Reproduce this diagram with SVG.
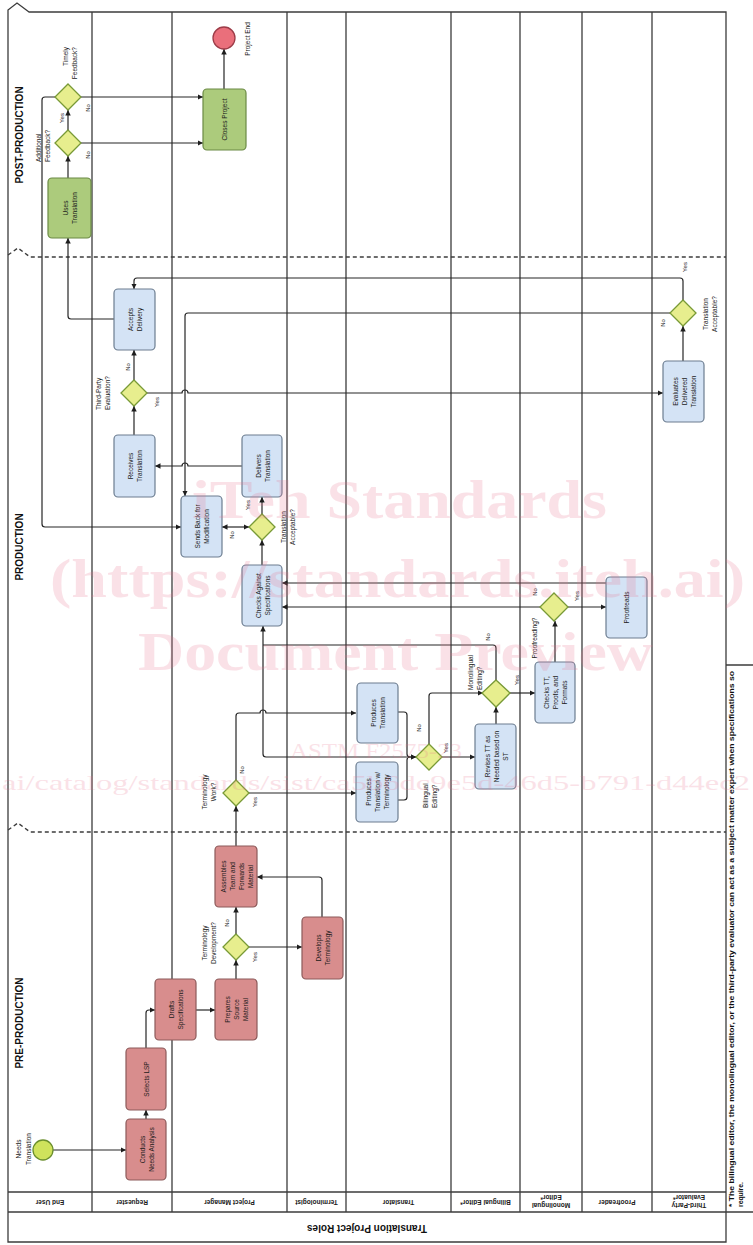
<svg xmlns="http://www.w3.org/2000/svg" width="753" height="1245" viewBox="0 0 753 1245">
<defs>
<marker id="arr" viewBox="0 0 10 10" refX="10" refY="5" markerWidth="5.5" markerHeight="5.5" markerUnits="userSpaceOnUse" orient="auto-start-reverse"><path d="M0,0 L10,5 L0,10 z" fill="#1e1e1e"/></marker>
<style>
.lane{fill:none;stroke:#3c3c3c;stroke-width:1.3}
.dash{fill:none;stroke:#3c3c3c;stroke-width:1.4;stroke-dasharray:4,3}
.c{fill:none;stroke:#262626;stroke-width:1.2;marker-end:url(#arr)}
.cn{fill:none;stroke:#262626;stroke-width:1.2}
.blue{fill:#d4e3f5;stroke:#6c7d90;stroke-width:1.2}
.red{fill:#d88d8d;stroke:#8c5a5a;stroke-width:1.2}
.green{fill:#accb7c;stroke:#6b8a45;stroke-width:1.2}
.dia{fill:#e7ee8e;stroke:#789a36;stroke-width:1.3}
.t{font-family:"Liberation Sans",Arial,sans-serif;font-size:6.5px;fill:#1a1a1a;text-anchor:middle;dominant-baseline:central}
.ts{text-anchor:start}
.te{text-anchor:end}
.yn{font-family:"Liberation Sans",Arial,sans-serif;font-size:6px;fill:#1a1a1a;text-anchor:middle;dominant-baseline:central}
.ll{font-family:"Liberation Sans",Arial,sans-serif;font-size:6.5px;font-weight:bold;fill:#1a1a1a;text-anchor:middle;dominant-baseline:central}
.ph{font-family:"Liberation Sans",Arial,sans-serif;font-size:10px;font-weight:bold;fill:#111;text-anchor:middle;dominant-baseline:central}
.fn{font-family:"Liberation Sans",Arial,sans-serif;font-size:6.8px;font-weight:bold;fill:#111;dominant-baseline:central}
</style>
</defs>
<rect width="753" height="1245" fill="#ffffff"/>

<g id="frame">
<path class="lane" d="M29,12 L17,3 L8,10 V1242 H726 V12 Z"/>
<path class="lane" d="M92,12 V1212 M172,12 V1212 M287,12 V1212 M346,12 V1212 M451,12 V1212 M520,12 V1212 M582,12 V1212 M652,12 V1212"/>
<path class="lane" d="M8,1192 H726 M8,1212 H753 M726,665 H753"/>
<path class="dash" d="M8,255 L18,248 L30,257 H726 M8,830 L18,823 L30,832 H726"/>
</g>

<g id="phases">
<text class="ph" transform="translate(19,135) rotate(-90)">POST-PRODUCTION</text>
<text class="ph" transform="translate(19,547) rotate(-90)">PRODUCTION</text>
<text class="ph" transform="translate(19,1023) rotate(-90)">PRE-PRODUCTION</text>
</g>

<g id="lane-labels">
<text class="ll" transform="translate(50,1202) rotate(180)">End User</text>
<text class="ll" transform="translate(132,1202) rotate(180)">Requester</text>
<text class="ll" transform="translate(229.5,1202) rotate(180)">Project Manager</text>
<text class="ll" transform="translate(316.5,1202) rotate(180)">Terminologist</text>
<text class="ll" transform="translate(398.5,1202) rotate(180)">Translator</text>
<text class="ll" transform="translate(485.5,1202) rotate(180)">Bilingual Editor*</text>
<text class="ll" transform="translate(551,1202) rotate(180)"><tspan x="0" y="-4">Monolingual</tspan><tspan x="0" y="4">Editor*</tspan></text>
<text class="ll" transform="translate(617,1202) rotate(180)">Proofreader</text>
<text class="ll" transform="translate(689,1202) rotate(180)"><tspan x="0" y="-4">Third-Party</tspan><tspan x="0" y="4">Evaluator*</tspan></text>
<text class="ph" transform="translate(367,1228) rotate(180)">Translation Project Roles</text>
</g>

<g id="footnote">
<text class="fn" transform="translate(731,1207) rotate(-90)"><tspan x="0" y="0" textLength="536" lengthAdjust="spacingAndGlyphs">* The bilingual editor, the monolingual editor, or the third-party evaluator can act as a subject matter expert when specifications so</tspan><tspan x="0" y="9">require.</tspan></text>
</g>

<g id="connectors">
<path class="c" d="M53,1150 H126"/>
<path class="c" d="M146,1119 V1110"/>
<path class="c" d="M146,1048 V1013 Q146,1010 149,1010 H155"/>
<path class="c" d="M196,1010 H215"/>
<path class="c" d="M236,979 V960"/>
<path class="c" d="M236,934 V907"/>
<path class="c" d="M249,947 H302"/>
<path class="c" d="M322,917 V880 Q322,877 319,877 H257"/>
<path class="c" d="M236,846 V806"/>
<path class="c" d="M236,780 V716 Q236,713 239,713 H260 A3,3 0 0 1 266,713 H356"/>
<path class="c" d="M249,793 H356"/>
<path class="c" d="M398,712 H404 Q407,712 407,715 V754 Q407,757 410,757 H416"/>
<path class="c" d="M398,800 H404 Q407,800 407,797 V760 Q407,757 410,757 H416"/>
<path class="c" d="M407,757 H266 Q263,757 263,754 V626"/>
<path class="c" d="M429,744 V696 Q429,693 432,693 H483"/>
<path class="c" d="M442,757 H475"/>
<path class="c" d="M496,724 V707"/>
<path class="c" d="M510,693 H535"/>
<path class="cn" d="M496,680 V648 Q496,645 493,645 H263"/>
<path class="c" d="M555,662 V621"/>
<path class="c" d="M568,607 H606"/>
<path class="c" d="M540,607 H282"/>
<path class="c" d="M606,583 H282"/>
<path class="c" d="M262,565 V540"/>
<path class="c" d="M262,514 V497"/>
<path class="c" d="M249,527 H222" style="marker-start:url(#arr)"/>
<path class="c" d="M242,466 H188 A3,3 0 0 0 182,466 H155"/>
<path class="c" d="M134,435 V406"/>
<path class="c" d="M134,380 V350"/>
<path class="c" d="M147,393 H182 A3,3 0 0 1 188,393 H663"/>
<path class="c" d="M683,361 V326"/>
<path class="c" d="M683,300 V281 Q683,278 680,278 H137 Q134,278 134,281 V289"/>
<path class="c" d="M670,313 H188 Q185,313 185,316 V496"/>
<path class="c" d="M114,319 H71 Q68,319 68,316 V238"/>
<path class="c" d="M68,178 V156"/>
<path class="c" d="M68,130 V110"/>
<path class="c" d="M81,143 H203"/>
<path class="c" d="M81,97 H203"/>
<path class="c" d="M55,97 H45 Q42,97 42,100 V524 Q42,527 45,527 H181"/>
<path class="c" d="M224,89 V49"/>
</g>

<g id="edge-labels">
<text class="yn" transform="translate(62,118) rotate(-90)">Yes</text>
<text class="yn" transform="translate(88,108) rotate(-90)">No</text>
<text class="yn" transform="translate(88,155) rotate(-90)">No</text>
<text class="yn" transform="translate(128,367) rotate(-90)">No</text>
<text class="yn" transform="translate(157,402) rotate(-90)">Yes</text>
<text class="yn" transform="translate(685,267) rotate(-90)">Yes</text>
<text class="yn" transform="translate(663,323) rotate(-90)">No</text>
<text class="yn" transform="translate(248,505) rotate(-90)">Yes</text>
<text class="yn" transform="translate(232,535) rotate(-90)">No</text>
<text class="yn" transform="translate(535,592) rotate(-90)">No</text>
<text class="yn" transform="translate(577,596) rotate(-90)">Yes</text>
<text class="yn" transform="translate(488,637) rotate(-90)">No</text>
<text class="yn" transform="translate(517,680) rotate(-90)">Yes</text>
<text class="yn" transform="translate(419,728) rotate(-90)">No</text>
<text class="yn" transform="translate(446,748) rotate(-90)">Yes</text>
<text class="yn" transform="translate(242,770) rotate(-90)">No</text>
<text class="yn" transform="translate(255,802) rotate(-90)">Yes</text>
<text class="yn" transform="translate(227,923) rotate(-90)">No</text>
<text class="yn" transform="translate(255,957) rotate(-90)">Yes</text>
</g>

<g id="start-needs-translation">
<circle cx="43" cy="1150" r="10" fill="#cfe25c" stroke="#6b8f2e" stroke-width="1.3"/>
<text class="t" transform="translate(22.5,1149) rotate(-90)"><tspan x="0" y="-5">Needs</tspan><tspan x="0" y="5">Translation</tspan></text>
</g>
<g id="n-conducts-needs-analysis">
<rect class="red" x="126" y="1119" width="40" height="61" rx="4"/>
<text class="t" transform="translate(146,1149.5) rotate(-90)"><tspan x="0" y="-4.5">Conducts</tspan><tspan x="0" y="4.5">Needs Analysis</tspan></text>
</g>
<g id="n-selects-lsp">
<rect class="red" x="126" y="1048" width="40" height="62" rx="4"/>
<text class="t" transform="translate(146,1079) rotate(-90)">Selects LSP</text>
</g>
<g id="n-drafts-specifications">
<rect class="red" x="155" y="979" width="41" height="61" rx="4"/>
<text class="t" transform="translate(175.5,1009.5) rotate(-90)"><tspan x="0" y="-4.5">Drafts</tspan><tspan x="0" y="4.5">Specifications</tspan></text>
</g>
<g id="n-prepares-source-material">
<rect class="red" x="215" y="979" width="42" height="61" rx="4"/>
<text class="t" transform="translate(236,1009.5) rotate(-90)"><tspan x="0" y="-9">Prepares</tspan><tspan x="0" y="0">Source</tspan><tspan x="0" y="9">Material</tspan></text>
</g>
<g id="d-terminology-development">
<path class="dia" d="M236,934 L249,947 L236,960 L223,947 Z"/>
<text class="t" transform="translate(208,943) rotate(-90)"><tspan x="0" y="-4.5">Terminology</tspan><tspan x="0" y="4.5">Development?</tspan></text>
</g>
<g id="n-develops-terminology">
<rect class="red" x="302" y="917" width="41" height="62" rx="4"/>
<text class="t" transform="translate(322.5,948) rotate(-90)"><tspan x="0" y="-4.5">Develops</tspan><tspan x="0" y="4.5">Terminology</tspan></text>
</g>
<g id="n-assembles-team">
<rect class="red" x="215" y="846" width="42" height="61" rx="4"/>
<text class="t" transform="translate(236,876.5) rotate(-90)"><tspan x="0" y="-13.5">Assembles</tspan><tspan x="0" y="-4.5">Team and</tspan><tspan x="0" y="4.5">Forwards</tspan><tspan x="0" y="13.5">Material</tspan></text>
</g>
<g id="d-terminology-work">
<path class="dia" d="M236,780 L249,793 L236,806 L223,793 Z"/>
<text class="t" transform="translate(208.5,792) rotate(-90)"><tspan x="0" y="-4.5">Terminology</tspan><tspan x="0" y="4.5">Work?</tspan></text>
</g>
<g id="n-produces-translation">
<rect class="blue" x="357" y="683" width="41" height="60" rx="4"/>
<text class="t" transform="translate(377.5,713) rotate(-90)"><tspan x="0" y="-4.5">Produces</tspan><tspan x="0" y="4.5">Translation</tspan></text>
</g>
<g id="n-produces-translation-terminology">
<rect class="blue" x="356" y="762" width="42" height="60" rx="4"/>
<text class="t" transform="translate(377,792) rotate(-90)"><tspan x="0" y="-9">Produces</tspan><tspan x="0" y="0">Translation w/</tspan><tspan x="0" y="9">Terminology</tspan></text>
</g>
<g id="d-bilingual-editing">
<path class="dia" d="M429,744 L442,757 L429,770 L416,757 Z"/>
<text class="t ts" transform="translate(429.5,808) rotate(-90)"><tspan x="0" y="-4.5">Bilingual</tspan><tspan x="0" y="4.5">Editing?</tspan></text>
</g>
<g id="n-revises-tt">
<rect class="blue" x="475" y="724" width="41" height="65" rx="4"/>
<text class="t" transform="translate(495.5,756.5) rotate(-90)"><tspan x="0" y="-9">Revises TT as</tspan><tspan x="0" y="0">Needed based on</tspan><tspan x="0" y="9">ST</tspan></text>
</g>
<g id="d-monolingual-editing">
<path class="dia" d="M496,680 L510,693 L496,707 L482,693 Z"/>
<text class="t ts" transform="translate(474.5,690) rotate(-90)"><tspan x="0" y="-4.5">Monolingual</tspan><tspan x="0" y="4.5">Editing?</tspan></text>
</g>
<g id="n-checks-tt">
<rect class="blue" x="535" y="662" width="40" height="61" rx="4"/>
<text class="t" transform="translate(555,692.5) rotate(-90)"><tspan x="0" y="-9">Checks TT,</tspan><tspan x="0" y="0">Proofs, and</tspan><tspan x="0" y="9">Formats</tspan></text>
</g>
<g id="d-proofreading">
<path class="dia" d="M554,593 L568,607 L554,621 L540,607 Z"/>
<text class="t" transform="translate(534.5,638) rotate(-90)">Proofreading?</text>
</g>
<g id="n-proofreads">
<rect class="blue" x="606" y="577" width="41" height="61" rx="4"/>
<text class="t" transform="translate(626.5,607.5) rotate(-90)">Proofreads</text>
</g>
<g id="n-checks-against-specifications">
<rect class="blue" x="242" y="565" width="40" height="61" rx="4"/>
<text class="t" transform="translate(262,595.5) rotate(-90)"><tspan x="0" y="-4.5">Checks Against</tspan><tspan x="0" y="4.5">Specifications</tspan></text>
</g>
<g id="d-translation-acceptable-pm">
<path class="dia" d="M262,514 L275,527 L262,540 L249,527 Z"/>
<text class="t" transform="translate(287,527) rotate(-90)"><tspan x="0" y="-4.5">Translation</tspan><tspan x="0" y="4.5">Acceptable?</tspan></text>
</g>
<g id="n-sends-back">
<rect class="blue" x="181" y="496" width="41" height="61" rx="4"/>
<text class="t" transform="translate(201.5,526.5) rotate(-90)"><tspan x="0" y="-4.5">Sends Back for</tspan><tspan x="0" y="4.5">Modification</tspan></text>
</g>
<g id="n-delivers-translation">
<rect class="blue" x="242" y="435" width="40" height="62" rx="4"/>
<text class="t" transform="translate(262,466) rotate(-90)"><tspan x="0" y="-4.5">Delivers</tspan><tspan x="0" y="4.5">Translation</tspan></text>
</g>
<g id="n-receives-translation">
<rect class="blue" x="114" y="435" width="41" height="62" rx="4"/>
<text class="t" transform="translate(134.5,466) rotate(-90)"><tspan x="0" y="-4.5">Receives</tspan><tspan x="0" y="4.5">Translation</tspan></text>
</g>
<g id="d-third-party-evaluation">
<path class="dia" d="M134,380 L147,393 L134,406 L121,393 Z"/>
<text class="t ts" transform="translate(102,410) rotate(-90)"><tspan x="0" y="-4.5">Third-Party</tspan><tspan x="0" y="4.5">Evaluation?</tspan></text>
</g>
<g id="n-evaluates-delivered-translation">
<rect class="blue" x="663" y="361" width="41" height="61" rx="4"/>
<text class="t" transform="translate(683.5,391.5) rotate(-90)"><tspan x="0" y="-9">Evaluates</tspan><tspan x="0" y="0">Delivered</tspan><tspan x="0" y="9">Translation</tspan></text>
</g>
<g id="d-translation-acceptable-tpe">
<path class="dia" d="M683,300 L696,313 L683,326 L670,313 Z"/>
<text class="t" transform="translate(709,314) rotate(-90)"><tspan x="0" y="-4.5">Translation</tspan><tspan x="0" y="4.5">Acceptable?</tspan></text>
</g>
<g id="n-accepts-delivery">
<rect class="blue" x="114" y="289" width="41" height="61" rx="4"/>
<text class="t" transform="translate(134.5,319.5) rotate(-90)"><tspan x="0" y="-4.5">Accepts</tspan><tspan x="0" y="4.5">Delivery</tspan></text>
</g>
<g id="n-uses-translation">
<rect class="green" x="48" y="178" width="43" height="60" rx="4"/>
<text class="t" transform="translate(69.5,208) rotate(-90)"><tspan x="0" y="-4.5">Uses</tspan><tspan x="0" y="4.5">Translation</tspan></text>
</g>
<g id="d-additional-feedback">
<path class="dia" d="M68,130 L81,143 L68,156 L55,143 Z"/>
<text class="t ts" transform="translate(42,162) rotate(-90)"><tspan x="0" y="-4.5">Additional</tspan><tspan x="0" y="4.5">Feedback?</tspan></text>
</g>
<g id="d-timely-feedback">
<path class="dia" d="M68,84 L81,97 L68,110 L55,97 Z"/>
<text class="t te" transform="translate(69.5,47) rotate(-90)"><tspan x="0" y="-4.5">Timely</tspan><tspan x="0" y="4.5">Feedback?</tspan></text>
</g>
<g id="n-closes-project">
<rect class="green" x="203" y="89" width="43" height="61" rx="4"/>
<text class="t" transform="translate(224.5,119.5) rotate(-90)">Closes Project</text>
</g>
<g id="end-project-end">
<circle cx="224" cy="38" r="11" fill="#ea6f7b" stroke="#9c3c48" stroke-width="1.3"/>
<text class="t" transform="translate(247,39) rotate(-90)">Project End</text>
</g>

<g id="watermark" fill="#e8708c" opacity="0.2" font-family="'Liberation Serif',serif">
<text x="192" y="518" font-size="54" font-weight="bold" textLength="415" lengthAdjust="spacingAndGlyphs">iTeh Standards</text>
<text x="50" y="597" font-size="54" font-weight="bold" textLength="695" lengthAdjust="spacingAndGlyphs">(https://standards.iteh.ai)</text>
<text x="138" y="670" font-size="54" font-weight="bold" textLength="515" lengthAdjust="spacingAndGlyphs">Document Preview</text>
<text x="290" y="758" font-size="22" textLength="172" lengthAdjust="spacingAndGlyphs">ASTM F2575-23</text>
<text x="2" y="790" font-size="22" textLength="748" lengthAdjust="spacingAndGlyphs">ai/catalog/standards/sist/ca5b6dc9e5d-46d5-b791-d44ec2</text>
</g>
</svg>
